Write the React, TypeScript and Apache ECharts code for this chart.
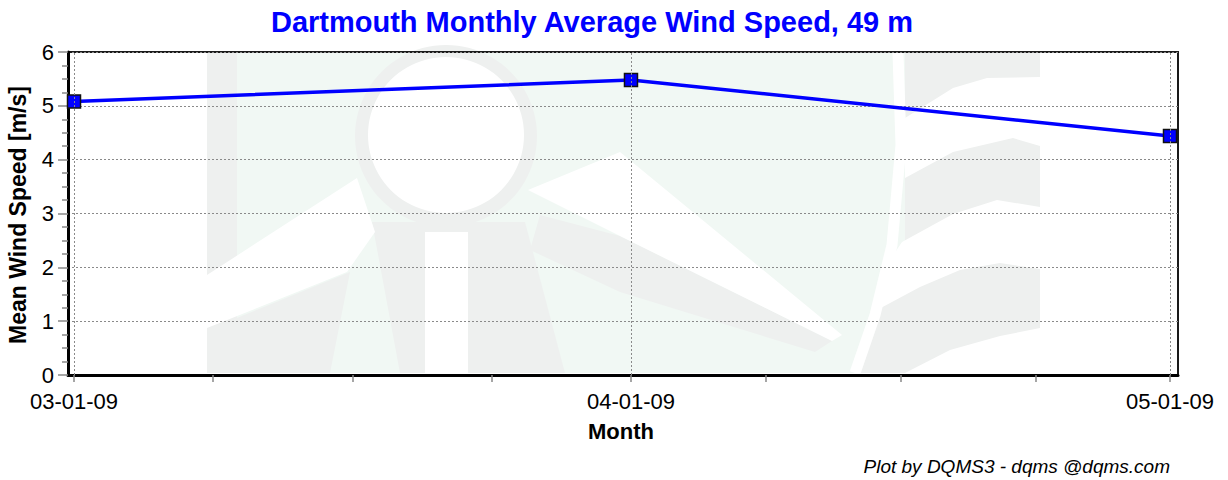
import React, { useEffect, useRef } from "react";
import * as echarts from "echarts";

// ---- data ----
const monthDates = ["2009-03-01", "2009-04-01", "2009-05-01"];
const monthLabels = ["03-01-09", "04-01-09", "05-01-09"];
const windSpeed = [5.08, 5.48, 4.44];
const yTickValues = [0, 1, 2, 3, 4, 5, 6];

const titleText = "Dartmouth Monthly Average Wind Speed, 49 m";
const yAxisTitle = "Mean Wind Speed [m/s]";
const xAxisTitle = "Month";
const footerText = "Plot by DQMS3 - dqms @dqms.com";

const DAY = 86400000;

export default function App() {
  const ref = useRef<HTMLDivElement>(null);

  useEffect(() => {
    if (!ref.current) return;
    const chart = echarts.init(ref.current, null, { renderer: "svg" });

    const ts = monthDates.map((d) => Date.parse(d + "T00:00:00Z"));
    // quarter-month minor ticks
    const tickVals: number[] = [];
    for (let i = 0; i < ts.length - 1; i++) {
      for (let k = 0; k < 4; k++) tickVals.push(ts[i] + ((ts[i + 1] - ts[i]) * k) / 4);
    }
    tickVals.push(ts[ts.length - 1]);

    const fmt = (v: number) => {
      const i = ts.findIndex((t) => Math.abs(t - v) < DAY / 2);
      return i >= 0 ? monthLabels[i] : "";
    };

    const mint = "#f1f8f4";
    const gray = "#eef0ef";
    const white = "#ffffff";
    const wm = (o: any) => ({ silent: true, z: -5, ...o });

    const watermark = [
      wm({ type: "rect", shape: { x: 207, y: 53, width: 833, height: 320 }, style: { fill: mint } }),
      wm({ type: "rect", shape: { x: 207, y: 53, width: 30, height: 320 }, style: { fill: gray } }),
      // tower
      wm({ type: "polygon", shape: { points: [[372, 222], [525, 222], [565, 373], [400, 373]] }, style: { fill: gray } }),
      wm({ type: "polygon", shape: { points: [[207, 330], [350, 272], [330, 373], [207, 373]] }, style: { fill: gray } }),
      wm({ type: "polygon", shape: { points: [[540, 215], [620, 236], [832, 341], [815, 352], [620, 292], [530, 250]] }, style: { fill: gray } }),
      wm({ type: "circle", shape: { cx: 446, cy: 136, r: 91 }, style: { fill: gray } }),
      wm({ type: "circle", shape: { cx: 446, cy: 135, r: 78 }, style: { fill: white } }),
      wm({ type: "rect", shape: { x: 425, y: 232, width: 43, height: 141 }, style: { fill: white } }),
      wm({ type: "polygon", shape: { points: [[207, 275], [357, 178], [375, 232], [347, 272], [207, 328]] }, style: { fill: white } }),
      // blade wedge
      wm({ type: "polygon", shape: { points: [[528, 190], [620, 152], [842, 335], [832, 341], [620, 236]] }, style: { fill: white } }),
      // flags
      wm({ type: "polygon", shape: { points: [[905, 53], [1040, 53], [1040, 373], [858, 373], [880, 310], [905, 250]] }, style: { fill: gray } }),
      wm({
        type: "polygon",
        shape: { points: [[905, 118], [953, 88], [987, 78], [1040, 77], [1040, 146], [1013, 138], [953, 152], [905, 178]] },
        style: { fill: white },
      }),
      wm({
        type: "polygon",
        shape: { points: [[902, 242], [953, 214], [997, 200], [1040, 207], [1040, 269], [1000, 263], [960, 270], [920, 287], [877, 310], [890, 260]] },
        style: { fill: white },
      }),
      wm({ type: "polygon", shape: { points: [[1040, 328], [1000, 336], [950, 350], [905, 373], [1040, 373]] }, style: { fill: white } }),
      wm({
        type: "polyline",
        shape: { points: [[898, 53], [901, 145], [892, 245], [875, 315], [855, 373]] },
        style: { stroke: white, lineWidth: 11, fill: null },
      }),
    ];

    const texts = [
      {
        type: "text",
        x: 592,
        y: 22,
        style: {
          text: titleText,
          fill: "#0000ff",
          font: "bold 29px Arial, 'Liberation Sans', sans-serif",
          textAlign: "center",
          textVerticalAlign: "middle",
        },
      },
      {
        type: "text",
        x: 18,
        y: 215,
        rotation: Math.PI / 2,
        style: {
          text: yAxisTitle,
          fill: "#000",
          font: "bold 23px Arial, 'Liberation Sans', sans-serif",
          textAlign: "center",
          textVerticalAlign: "middle",
        },
      },
      {
        type: "text",
        x: 621,
        y: 431,
        style: {
          text: xAxisTitle,
          fill: "#000",
          font: "bold 22px Arial, 'Liberation Sans', sans-serif",
          textAlign: "center",
          textVerticalAlign: "middle",
        },
      },
      {
        type: "text",
        x: 1170,
        y: 466,
        style: {
          text: footerText,
          fill: "#000",
          font: "italic 19px Arial, 'Liberation Sans', sans-serif",
          textAlign: "right",
          textVerticalAlign: "middle",
        },
      },
    ];

    chart.setOption({
      animation: false,
      backgroundColor: "#fff",
      graphic: [...watermark, ...texts],
      grid: {
        left: 68,
        right: 50,
        top: 52,
        bottom: 105,
        show: true,
        borderColor: "#1a1a1a",
        borderWidth: 2,
        backgroundColor: "rgba(0,0,0,0)",
      },
      xAxis: {
        type: "value",
        min: ts[0] - 0.334 * DAY,
        max: ts[ts.length - 1] + 0.445 * DAY,
        axisLine: { show: true, onZero: false, lineStyle: { color: "#000", width: 3 } },
        axisTick: { show: true, customValues: tickVals, length: 7, lineStyle: { color: "#888", width: 1.5 } },
        axisLabel: {
          customValues: ts,
          formatter: fmt,
          fontSize: 22,
          lineHeight: 22,
          color: "#000",
          fontFamily: "Arial, 'Liberation Sans', sans-serif",
          margin: 15,
        },
        splitLine: { show: false },
      },
      yAxis: {
        type: "value",
        min: yTickValues[0],
        max: yTickValues[yTickValues.length - 1],
        interval: 1,
        axisLine: { show: true, lineStyle: { color: "#000", width: 3 } },
        axisTick: { show: true, length: 10, lineStyle: { color: "#888", width: 1.5 } },
        minorTick: { show: true, splitNumber: 4, length: 6, lineStyle: { color: "#888", width: 1.5 } },
        axisLabel: {
          fontSize: 22,
          color: "#000",
          fontFamily: "Arial, 'Liberation Sans', sans-serif",
          margin: 14,
        },
        splitLine: { show: true, lineStyle: { color: "#8a8a8a", width: 1, type: [2, 2] } },
      },
      series: [
        {
          type: "line",
          data: [],
          z: 1,
          silent: true,
          markLine: {
            silent: true,
            symbol: "none",
            label: { show: false },
            lineStyle: { color: "#8a8a8a", width: 1, type: [2, 2] },
            data: ts.map((t) => ({ xAxis: t })),
          },
        },
        {
          type: "line",
          z: 3,
          data: ts.map((t, i) => [t, windSpeed[i]]),
          symbol: "rect",
          symbolSize: 13,
          lineStyle: { color: "#0000ff", width: 3.5 },
          itemStyle: { color: "#0000ff", borderColor: "#111", borderWidth: 1.5 },
        },
      ],
    });

    return () => chart.dispose();
  }, []);

  return (
    <div
      ref={ref}
      style={{ position: "fixed", left: 0, top: 0, width: 1228, height: 480, background: "#fff" }}
    />
  );
}
